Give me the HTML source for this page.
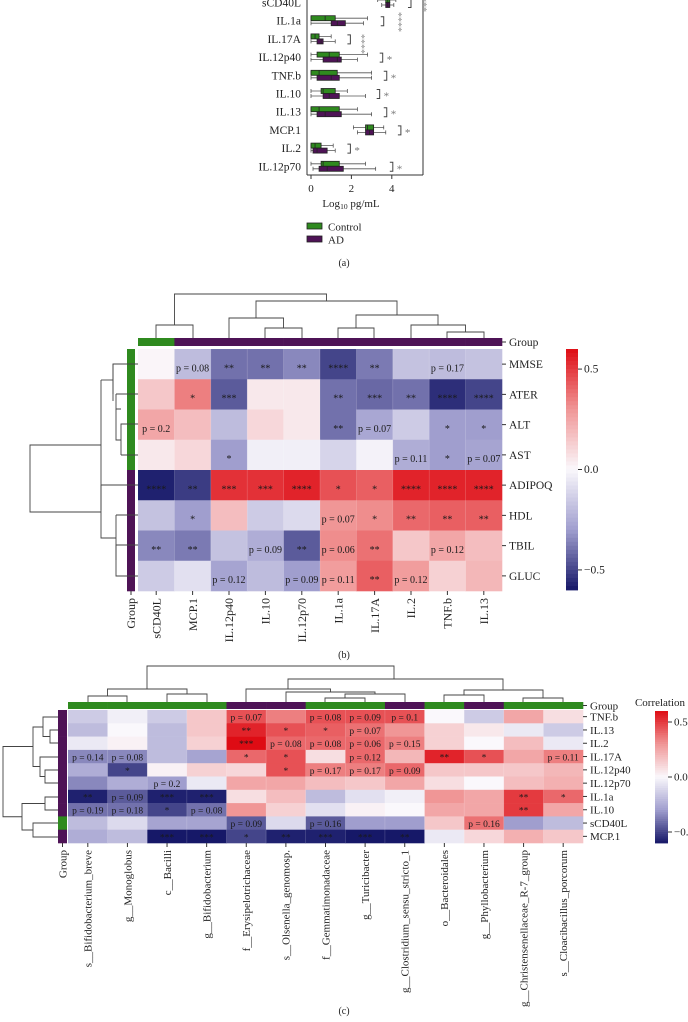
<!DOCTYPE html>
<html><head><meta charset="utf-8"><style>
html,body{margin:0;padding:0;background:#fff}
svg{display:block;font-family:"Liberation Serif",serif}
</style></head><body>
<svg id="fig" width="688" height="1022" viewBox="0 0 688 1022"></svg>
<script>
// ---------- Panel (a) data ----------
const aCats=["sCD40L","IL.1a","IL.17A","IL.12p40","TNF.b","IL.10","IL.13","MCP.1","IL.2","IL.12p70"];
const aCtrl=[[3.3,3.7,3.8,3.9,4.2],[0,0,0.7,1.2,2.8],[0,0,0.2,0.4,1.0],[0,0.3,0.9,1.4,2.8],[0,0,0.4,1.3,3.0],[0,0.5,0.6,1.2,1.8],[0,0,0.4,1.4,2.3],[2.1,2.7,2.8,3.1,3.6],[0,0,0.2,0.5,1.1],[0,0.5,0.6,1.4,2.7]];
const aAD=[[3.5,3.7,3.8,3.9,4.1],[0,1.0,1.3,1.7,2.6],[0,0.3,0.5,0.6,1.2],[0,0.6,1.3,1.5,2.3],[0,0.3,1.0,1.4,3.0],[0,0.6,0.9,1.4,2.7],[0,0.3,0.7,1.5,3.0],[2.3,2.7,2.9,3.1,3.7],[0,0.1,0.3,0.8,1.2],[0.1,0.4,0.8,1.6,3.2]];
const aSig=["****","****","****","*","*","*","*","*","*","*"];
const aSigX=[4.95,3.6,1.95,3.55,3.75,3.4,3.75,4.45,1.95,4.05];
const aTicks=[0,2,4];
// ---------- Panel (b) data ----------
const bCols=["sCD40L","MCP.1","IL.12p40","IL.10","IL.12p70","IL.1a","IL.17A","IL.2","TNF.b","IL.13"];
const bRows=["MMSE","ATER","ALT","AST","ADIPOQ","HDL","TBIL","GLUC"];
const bVals=[
[0.01,-0.2,-0.4,-0.4,-0.35,-0.5,-0.38,-0.18,-0.2,-0.18],
[0.15,0.35,-0.45,0.05,0.05,-0.4,-0.42,-0.4,-0.55,-0.5],
[0.25,0.18,-0.2,0.1,0.05,-0.4,-0.27,-0.15,-0.3,-0.3],
[0.05,0.1,-0.3,-0.03,-0.03,-0.12,-0.02,-0.25,-0.3,-0.28],
[-0.58,-0.52,0.52,0.52,0.55,0.45,0.42,0.55,0.55,0.55],
[-0.18,-0.3,0.18,-0.15,-0.1,0.3,0.32,0.4,0.42,0.42],
[-0.35,-0.38,-0.18,-0.25,-0.45,0.32,0.38,0.15,0.25,0.18],
[-0.15,-0.08,-0.28,-0.2,-0.3,0.28,0.42,0.28,0.12,0.2]];
const bLabels=[
["","p = 0.08","**","**","**","****","**","","p = 0.17",""],
["","*","***","","","**","***","**","****","****"],
["p = 0.2","","","","","**","p = 0.07","","*","*"],
["","","*","","","","","p = 0.11","*","p = 0.07"],
["****","**","***","***","****","*","*","****","****","****"],
["","*","","","","p = 0.07","*","**","**","**"],
["**","**","","p = 0.09","**","p = 0.06","**","","p = 0.12",""],
["","","p = 0.12","","p = 0.09","p = 0.11","**","p = 0.12","",""]];
const bColGroup=[0,1,1,1,1,1,1,1,1,1];
const bRowGroup=[0,0,0,0,1,1,1,1];
// ---------- Panel (c) data ----------
const cCols=["s__Bifidobacterium_breve","g__Monoglobus","c__Bacilli","g__Bifidobacterium","f__Erysipelotrichaceae","s__Olsenella_genomosp.","f__Gemmatimonadaceae","g__Turicibacter","g__Clostridium_sensu_stricto_1","o__Bacteroidales","g__Phyllobacterium","g__Christensenellaceae_R-7_group","s__Cloacibacillus_porcorum"];
const cRows=["TNF.b","IL.13","IL.2","IL.17A","IL.12p40","IL.12p70","IL.1a","IL.10","sCD40L","MCP.1"];
const cVals=[
[-0.15,-0.03,-0.15,0.15,0.45,0.35,0.45,0.45,0.45,0.0,-0.15,0.25,0.08],
[-0.2,0.0,-0.2,0.15,0.55,0.45,0.42,0.38,0.3,0.12,0.05,-0.05,-0.15],
[-0.05,0.02,-0.2,0.12,0.6,0.4,0.4,0.4,0.35,0.12,0.0,0.18,-0.05],
[-0.35,-0.35,-0.2,-0.28,0.4,0.45,0.08,0.4,0.2,0.55,0.45,0.25,0.35],
[-0.25,-0.5,0.02,0.12,0.1,0.45,0.35,0.35,0.4,0.15,0.15,0.15,0.2],
[-0.35,-0.25,-0.3,-0.05,0.25,0.25,0.18,0.15,0.25,0.08,0.0,0.18,0.22],
[-0.58,-0.45,-0.58,-0.58,0.08,0.18,-0.2,-0.08,-0.03,0.3,0.25,0.5,0.4],
[-0.4,-0.4,-0.5,-0.4,0.3,0.12,-0.08,0.02,0.0,0.25,0.25,0.5,0.25],
[-0.2,-0.1,-0.28,-0.28,-0.45,-0.1,-0.45,-0.3,-0.3,0.15,0.38,-0.3,-0.2],
[-0.25,-0.2,-0.6,-0.6,-0.5,-0.58,-0.58,-0.6,-0.6,-0.05,0.1,0.22,0.15]];
const cLabels=[
["","","","","p = 0.07","","p = 0.08","p = 0.09","p = 0.1","","","",""],
["","","","","**","*","*","p = 0.07","","","","",""],
["","","","","***","p = 0.08","p = 0.08","p = 0.06","p = 0.15","","","",""],
["p = 0.14","p = 0.08","","","*","*","","p = 0.12","","**","*","","p = 0.11"],
["","*","","","","*","p = 0.17","p = 0.17","p = 0.09","","","",""],
["","","p = 0.2","","","","","","","","","",""],
["**","p = 0.09","***","***","","","","","","","","**","*"],
["p = 0.19","p = 0.18","*","p = 0.08","","","","","","","","**",""],
["","","","","p = 0.09","","p = 0.16","","","","p = 0.16","",""],
["","","***","***","*","**","***","***","**","","","",""]];
const cColGroup=[0,0,0,0,1,1,0,0,1,0,1,0,0];
const cRowGroup=[1,1,1,1,1,1,1,1,0,1];
const cbTicks=[0.5,0.0,-0.5];

const NS="http://www.w3.org/2000/svg";
const svg=document.getElementById('fig');
const GREEN="#2f8a1f", PURPLE="#4e1356";
function mk(tag,attrs,parent){const e=document.createElementNS(NS,tag);for(const k in attrs)e.setAttribute(k,attrs[k]);(parent||svg).appendChild(e);return e;}
function txt(x,y,s,size,anchor,extra,parent){const t=mk('text',Object.assign({x:x,y:y,'font-size':size,'text-anchor':anchor||'start',fill:'#222'},extra||{}),parent);t.textContent=s;return t;}
function lerp(a,b,t){return a.map((v,i)=>Math.round(v+(b[i]-v)*t));}
function color(v){let t=Math.max(-1,Math.min(1,v/0.6));
 const W=[250,248,252];
 if(t>=0){const c=t<0.5?lerp(W,[240,150,150],t/0.5):lerp([240,150,150],[222,12,20],(t-0.5)/0.5);return `rgb(${c})`;}
 t=-t;const c=t<0.5?lerp(W,[160,158,206],t/0.5):lerp([160,158,206],[22,24,104],(t-0.5)/0.5);return `rgb(${c})`;}

// ================= Panel (a) =================
const aX0=311, aPx=20.2, aY0=2.5, aStep=18.2;
const ax=v=>aX0+v*aPx;
const ga=mk('g',{});


mk('line',{x1:307,y1:0,x2:307,y2:175,stroke:'#333','stroke-width':1},ga);
mk('line',{x1:307,y1:175,x2:423,y2:175,stroke:'#333','stroke-width':1},ga);
mk('line',{x1:423,y1:0,x2:423,y2:175,stroke:'#333','stroke-width':1},ga);
aTicks.forEach(v=>{mk('line',{x1:ax(v),y1:175,x2:ax(v),y2:179,stroke:'#333'},ga);
 const t=txt(ax(v),192,String(v),11,'middle',{},ga);});
const xl=txt(351,207,"",11,'middle');xl.innerHTML='Log<tspan font-size="7.5" dy="2">10</tspan><tspan dy="-2"> pg/mL</tspan>';


function box(d,yc,h,fill,g){
 mk('line',{x1:ax(d[0]),y1:yc,x2:ax(d[4]),y2:yc,stroke:'#555','stroke-width':0.8},g);
 mk('line',{x1:ax(d[0]),y1:yc-2,x2:ax(d[0]),y2:yc+2,stroke:'#555','stroke-width':0.8},g);
 mk('line',{x1:ax(d[4]),y1:yc-2,x2:ax(d[4]),y2:yc+2,stroke:'#555','stroke-width':0.8},g);
 mk('rect',{x:ax(d[1]),y:yc-h/2,width:Math.max(1,ax(d[3])-ax(d[1])),height:h,fill:fill,stroke:'#222','stroke-width':0.8},g);
 mk('line',{x1:ax(d[2]),y1:yc-h/2,x2:ax(d[2]),y2:yc+h/2,stroke:'#222','stroke-width':0.8},g);}
aCats.forEach((c,i)=>{
 const yc=aY0+i*aStep;
 const g=mk('g',{},ga);
 
 
 box(aCtrl[i],yc-2.5,5,GREEN,g);
 box(aAD[i],yc+2.5,5,PURPLE,g);
 txt(301,yc+4,c,11.5,'end',{},g);
 const bx=ax(aSigX[i]);
 mk('path',{d:`M${bx-3},${yc-4}h3v9h-3`,fill:'none',stroke:'#444','stroke-width':1},g);
 if(aSig[i]==='*'){txt(bx+4,yc+6,'*',11,'start',{fill:'#777'},g);}
});
[[420,2],[395,22],[358,44]].forEach(p=>{const t=txt(p[0],p[1],'****',10,'middle',{fill:'#888',transform:`rotate(90 ${p[0]} ${p[1]})`});});
const lg=mk('g',{});


mk('rect',{x:307,y:223,width:15,height:6,fill:GREEN,stroke:'#222','stroke-width':0.8},lg);
txt(328,230.5,'Control',11,'start',{},lg);
mk('rect',{x:307,y:236,width:15,height:6,fill:PURPLE,stroke:'#222','stroke-width':0.8},lg);
txt(328,243.5,'AD',11,'start',{},lg);
const la=txt(344,266,'(a)',10,'middle');

// ================= Heatmap helper =================
function heatmap(o){
 const g=mk('g',{});
 
 
 const cw=(o.x1-o.x0)/o.cols.length, rh=(o.y1-o.y0)/o.rows.length;
 o.vals.forEach((row,r)=>row.forEach((v,c)=>{
  const cell=mk('rect',{x:o.x0+c*cw,y:o.y0+r*rh,width:cw+0.3,height:rh+0.3,fill:color(v)},g);
  
  
  const lab=o.labels[r][c];
  if(lab){txt(o.x0+(c+0.5)*cw,o.y0+r*rh+rh*o.ly,lab,o.fs,'middle',{fill:'#1a1a1a'},g);}
 }));
 for(let c=1;c<o.cols.length;c++)mk('line',{x1:o.x0+c*cw,y1:o.y0,x2:o.x0+c*cw,y2:o.y1,stroke:'rgba(255,255,255,0.25)','stroke-width':0.6},g);
 o.colGroup.forEach((gr,c)=>mk('rect',{x:o.x0+c*cw,y:o.gy,width:cw+0.3,height:o.gh,fill:gr?PURPLE:GREEN},g));
 mk('line',{x1:o.x1,y1:o.gy+o.gh/2,x2:o.x1+4,y2:o.gy+o.gh/2,stroke:'#333'},g);
 txt(o.x1+7,o.gy+o.gh/2+4,'Group',o.rfs,'start',{},g);
 o.rowGroup.forEach((gr,r)=>mk('rect',{x:o.gx,y:o.y0+r*rh,width:o.gw,height:rh+0.3,fill:gr?PURPLE:GREEN},g));
 o.rows.forEach((rn,r)=>{const yc=o.y0+(r+0.5)*rh;mk('line',{x1:o.x1,y1:yc,x2:o.x1+4,y2:yc,stroke:'#333'},g);
  const t=txt(o.x1+7,yc+o.rfs*0.35,rn,o.rfs,'start',{},g);});
 const gl=o.gx+o.gw/2;
 mk('line',{x1:gl,y1:o.y1,x2:gl,y2:o.y1+4,stroke:'#333'},g);
 txt(gl+o.cfs*0.35,o.y1+7,'Group',o.cfs,'end',{transform:`rotate(-90 ${gl+o.cfs*0.35} ${o.y1+7})`},g);
 o.cols.forEach((cn,c)=>{const xc=o.x0+(c+0.5)*cw;mk('line',{x1:xc,y1:o.y1,x2:xc,y2:o.y1+4,stroke:'#333'},g);
  const t=txt(xc+o.cfs*0.35,o.y1+7,cn,o.cfs,'end',{transform:`rotate(-90 ${xc+o.cfs*0.35} ${o.y1+7})`},g);
  });
 o.dendro.forEach(d=>mk('path',{d:d,fill:'none',stroke:'#444','stroke-width':0.9},g));
 const cb=mk('g',{},g);
 
 
 const n=60,ch=(o.cby1-o.cby0)/n;
 for(let i=0;i<n;i++){const v=0.6-1.2*(i+0.5)/n;mk('rect',{x:o.cbx,y:o.cby0+i*ch,width:o.cbw,height:ch+0.4,fill:color(v)},cb);}
 cbTicks.forEach(v=>{const y=o.cby0+(0.6-v)/1.2*(o.cby1-o.cby0);mk('line',{x1:o.cbx+o.cbw,y1:y,x2:o.cbx+o.cbw+4,y2:y,stroke:'#333'},cb);
  txt(o.cbx+o.cbw+6,y+3.5,(v<0?'\u2212':'')+Math.abs(v).toFixed(1),o.rfs,'start',{},cb);});
 return g;}

// ================= Panel (b) =================
heatmap({name:'panel-b-heatmap',cols:bCols,rows:bRows,vals:bVals,labels:bLabels,colGroup:bColGroup,rowGroup:bRowGroup,
 x0:138,x1:502,y0:349,y1:591,ly:0.74,fs:10,rfs:11.5,cfs:12,gy:338,gh:8,gx:127,gw:8,
 cbx:566,cbw:12,cby0:349,cby1:590,
 dendro:[
 "M156,338V325H193V338","M265,338V328H302V338","M229,338V318H283.5V328","M338,338V328H374V338",
 "M447,338V332H484V338","M411,338V325H465.5V332","M356,328V315H438V325","M256,318V301H397V315","M174.5,325V294H326.5V301",
 "M138,364H113V394","M138,394H116","M138,424H121V455","M138,455H121","M116,394V409H121","M116,409V440H121",
 "M113,364V401H113","M113,380H101","M138,545H116V576H138","M138,515H116","M116,515V560H116","M138,485H101","M101,485V538H116","M101,380V510","M101,445H30V512H101"]});
const lb=txt(344,658,'(b)',10,'middle');

// ================= Panel (c) =================
heatmap({name:'panel-c-heatmap',cols:cCols,rows:cRows,vals:cVals,labels:cLabels,colGroup:cColGroup,rowGroup:cRowGroup,
 x0:68,x1:583,y0:710,y1:843,ly:0.8,fs:9.5,rfs:11,cfs:11,gy:702,gh:7,gx:58,gw:9,
 cbx:655,cbw:13,cby0:711,cby1:843,
 dendro:[
 "M88,702V696H127V696V702","M167,702V694H207V702","M107.5,696V689H187V694","M147,689V666H394V679",
 "M325,702V698H365V702","M345,698V694H405V702","M286,702V692H375V694","M246,702V689H330.5V692","M288,689V679H503V690",
 "M444,702V695H484V702","M523,702V698H563V702","M464,695V690H543V698",
 "M58,730H50V743H58","M58,717H43V736.5H50","M58,770H45V783H58","M58,757H40V776.5H45","M43,727H33V766.5H40",
 "M58,797H45V810H58","M58,823H33V837H58","M45,803.5H22V830H33","M33,746.5H3V816.75H22"]});
const ct=txt(660,706,'Correlation',11,'middle');
const lc=txt(344,1014,'(c)',10,'middle');
</script>
</body></html>
